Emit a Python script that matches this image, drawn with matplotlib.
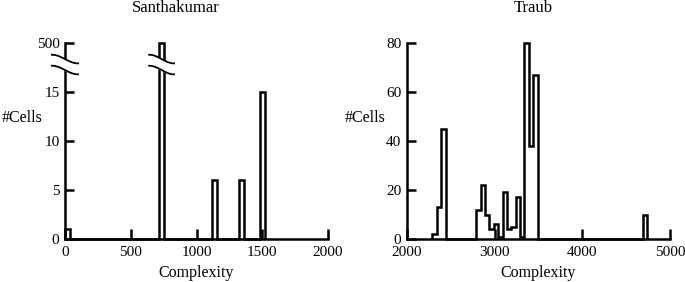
import numpy as np
import matplotlib.pyplot as plt
from matplotlib.transforms import blended_transform_factory

plt.rcParams['font.family'] = ['Liberation Serif', 'DejaVu Serif']

# Santhakumar: left edge of each bin and its count
santh_bins = [0, 715, 1115, 1320, 1480]
santh_counts = [1, 500, 6, 6, 15]
santh_width = 40
santh_yticks = [0, 5, 10, 15, 20]
santh_yticklabels = ['0', '5', '10', '15', '500']
santh_xticks = [0, 500, 1000, 1500, 2000]
santh_break = 20   # counts above this are drawn cut at the top

# Traub
traub_bins = [2290, 2340, 2390, 2790, 2840, 2890, 2940, 2990, 3040, 3090,
              3140, 3190, 3240, 3290, 3340, 3390, 3440, 4690]
traub_counts = [2, 13, 45, 12, 22, 10, 4, 6, 1, 19, 4, 5, 17, 1, 80, 38, 67, 10]
traub_width = 50
traub_yticks = [0, 20, 40, 60, 80]
traub_xticks = [2000, 3000, 4000, 5000]

LW = 1.8


def step_hist(ax, lefts, counts, width):
    lefts = np.array(lefts, dtype=float)
    edges = np.unique(np.concatenate([lefts, lefts + width]))
    ax.hist(lefts + width / 2, bins=edges, weights=counts, histtype='step',
            color='black', linewidth=LW, clip_on=False, zorder=3)


def style(ax):
    for s in ['top', 'right']:
        ax.spines[s].set_visible(False)
    for s in ['left', 'bottom']:
        ax.spines[s].set_linewidth(LW)
    ax.tick_params(axis='y', direction='in', length=6.5, width=LW, pad=4, labelsize=11)
    ax.tick_params(axis='x', direction='in', length=7.5, width=LW, pad=5, labelsize=11)


def draw_break(ax, xc, half):
    tr = blended_transform_factory(ax.transData, ax.transAxes)
    t = np.linspace(-1, 1, 50)
    xs = xc + half * t
    shape = 0.022 * np.cos(np.pi * (t + 1) / 2)
    y_hi = 0.918 + shape
    y_lo = 0.862 + shape
    ax.fill_between(xs, y_lo, y_hi, color='white', transform=tr, zorder=5, clip_on=False)
    ax.plot(xs, y_hi, color='black', lw=1.3, transform=tr, zorder=6, clip_on=False)
    ax.plot(xs, y_lo, color='black', lw=1.3, transform=tr, zorder=6, clip_on=False)


fig = plt.figure(figsize=(6.85, 2.82), dpi=100)
ax1 = fig.add_axes([65 / 685, 43 / 282, 263 / 685, 196 / 282])
ax2 = fig.add_axes([407 / 685, 43 / 282, 263 / 685, 196 / 282])

# left panel
shown = np.minimum(santh_counts, santh_break)
step_hist(ax1, santh_bins, shown, santh_width)
ax1.set_xlim(0, 2000)
ax1.set_ylim(0, santh_break)
ax1.set_xticks(santh_xticks)
ax1.set_yticks(santh_yticks)
ax1.set_yticklabels(santh_yticklabels)
style(ax1)
draw_break(ax1, 0, 100)
big = santh_bins[int(np.argmax(santh_counts))] + santh_width / 2
draw_break(ax1, big, 95)

# right panel
step_hist(ax2, traub_bins, traub_counts, traub_width)
ax2.set_xlim(2000, 5000)
ax2.set_ylim(0, 80)
ax2.set_xticks(traub_xticks)
ax2.set_yticks(traub_yticks)
style(ax2)

for ax, title, tx in [(ax1, 'Santhakumar', 176), (ax2, 'Traub', 533)]:
    ax.set_xlabel('Complexity', fontsize=11.5)
    ax.xaxis.set_label_coords(0.5, -0.135)
    ax.set_ylabel('#Cells', rotation=0, ha='left', va='center', fontsize=11.5)
    fig.text(tx / 685, 1 - 8 / 282, title, ha='center', va='center', fontsize=12)
ax1.yaxis.set_label_coords(-0.24, 0.617)
ax2.yaxis.set_label_coords(-0.236, 0.617)

fig.savefig('out.png', dpi=100)
